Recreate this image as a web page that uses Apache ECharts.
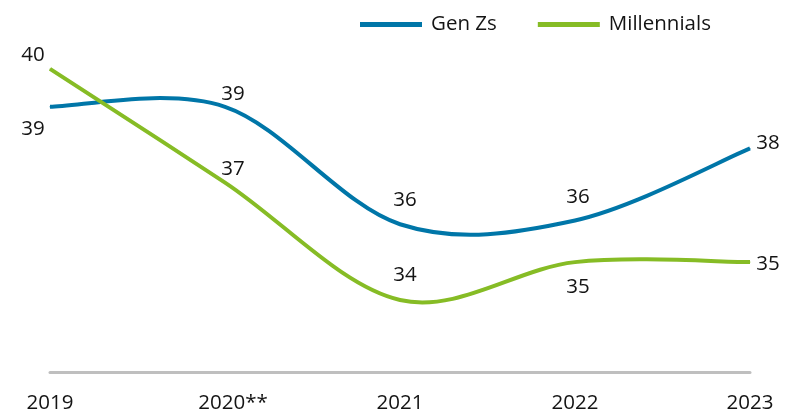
<!DOCTYPE html>
<html>
<head>
<meta charset="utf-8">
<script src="https://cdn.jsdelivr.net/npm/echarts@6/dist/echarts.min.js"></script>
<style>
  html, body { margin: 0; padding: 0; background: #fff; }
  #chart { width: 793px; height: 409px; }
</style>
</head>
<body>
<div id="chart"></div>
<script>
// data
var years = ['2019', '2020**', '2021', '2022', '2023'];
var genZs = [39.0, 39.0, 35.9, 36.0, 37.9];
var millennials = [40.0, 37.0, 33.9, 34.9, 34.9];

// where each value label sits relative to its point [dx, dy]
var genZOffsets = [[-17, 22], [8, -13], [5, -24], [3, -23], [18, -5]];
var milOffsets = [[-17, -14], [8, -13], [5, -25], [3, 25], [18, 2]];

var font = '"Open Sans", "Noto Sans", sans-serif';
var BLUE = '#0076a8';
var GREEN = '#86bc25';
var TEXT = '#141414';

// smoothed path like the spreadsheet one (catmull-rom, can overshoot)
function splinePath(pts) {
    var d = 'M' + pts[0][0] + ' ' + pts[0][1];
    for (var i = 0; i < pts.length - 1; i++) {
        var p0 = pts[Math.max(i - 1, 0)];
        var p1 = pts[i];
        var p2 = pts[i + 1];
        var p3 = pts[Math.min(i + 2, pts.length - 1)];
        var c1x = p1[0] + (p2[0] - p0[0]) / 6, c1y = p1[1] + (p2[1] - p0[1]) / 6;
        var c2x = p2[0] - (p3[0] - p1[0]) / 6, c2y = p2[1] - (p3[1] - p1[1]) / 6;
        d += ' C' + c1x + ' ' + c1y + ' ' + c2x + ' ' + c2y + ' ' + p2[0] + ' ' + p2[1];
    }
    return d;
}

function curveSeries(name, color, values) {
    return {
        name: name,
        type: 'custom',
        silent: true,
        itemStyle: { color: color },
        data: values.map(function (v, i) { return [i, v]; }),
        encode: { x: 0, y: 1 },
        renderItem: function (params, api) {
            if (params.dataIndex !== 0) return null;
            var pts = values.map(function (v, i) { return api.coord([i, v]); });
            return {
                type: 'path',
                shape: { pathData: splinePath(pts) },
                style: { fill: null, stroke: color, lineWidth: 4 }
            };
        }
    };
}

function labelSeries(name, color, values, offsets) {
    return {
        name: name,
        type: 'line',
        symbol: 'circle',
        symbolSize: 1,
        showSymbol: true,
        itemStyle: { color: color },
        lineStyle: { opacity: 0 },
        label: {
            show: true,
            position: 'inside',
            color: TEXT,
            fontFamily: font,
            fontSize: 20.5,
            formatter: function (p) { return Math.round(p.value); }
        },
        emphasis: { disabled: true },
        data: values.map(function (v, i) {
            return { value: v, label: { offset: offsets[i] } };
        })
    };
}

// the 2020** label sits a little right of its tick in the original
var axisData = years.map(function (y) {
    return y.indexOf('*') > 0 ? { value: y, textStyle: { padding: [0, 0, 0, 16] } } : y;
});

var myChart = echarts.init(document.getElementById('chart'));
myChart.setOption({
    animation: false,
    legend: {
        left: 355,
        top: 9,
        itemWidth: 62,
        itemHeight: 5,
        itemGap: 41,
        icon: 'rect',
        textStyle: { fontFamily: font, fontSize: 20.5, color: TEXT, padding: [0, 0, 0, 4] },
        data: [
            { name: 'Gen Zs', itemStyle: { color: BLUE } },
            { name: 'Millennials', itemStyle: { color: GREEN } }
        ]
    },
    grid: { left: 50, right: 43, top: 31, bottom: 37, outerBoundsMode: 'none' },
    xAxis: {
        type: 'category',
        boundaryGap: false,
        data: axisData,
        axisLine: { lineStyle: { color: '#bfbfbf', width: 3 } },
        axisTick: { show: false },
        axisLabel: { color: TEXT, fontFamily: font, fontSize: 20.5, margin: 21 }
    },
    yAxis: {
        type: 'value',
        min: 32,
        max: 41,
        show: false,
        splitLine: { show: false }
    },
    series: [
        curveSeries('Gen Zs', BLUE, genZs),
        curveSeries('Millennials', GREEN, millennials),
        labelSeries('Gen Zs', BLUE, genZs, genZOffsets),
        labelSeries('Millennials', GREEN, millennials, milOffsets)
    ]
});
</script>
</body>
</html>
